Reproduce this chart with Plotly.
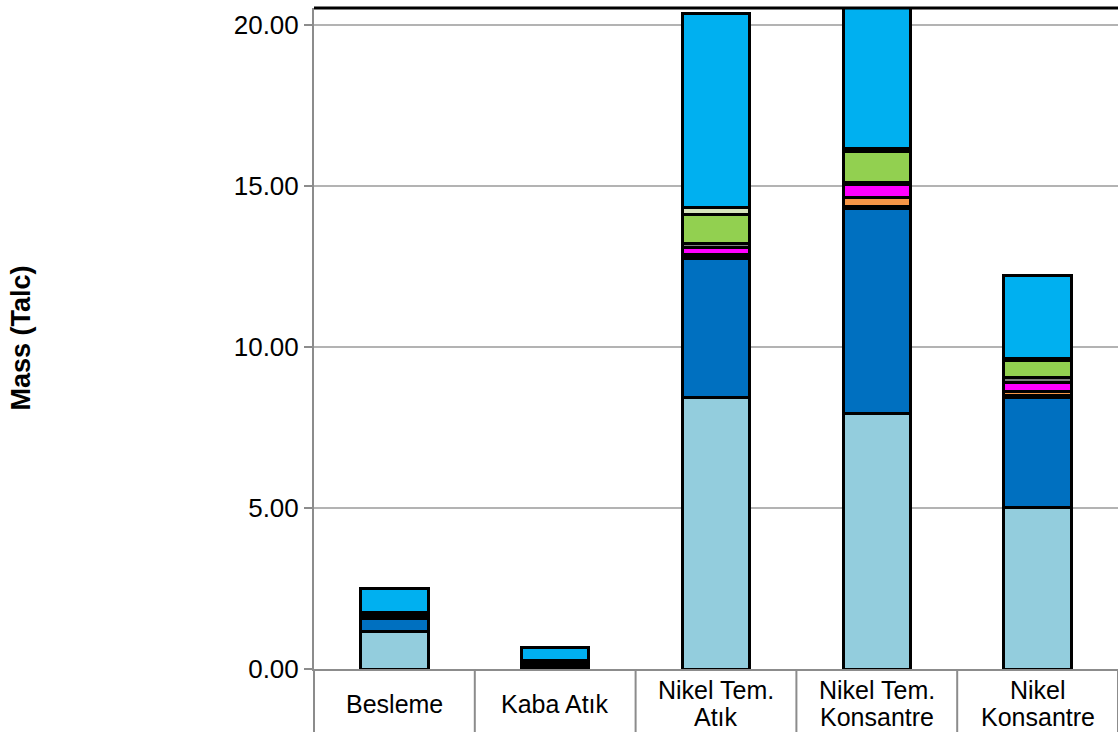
import plotly.graph_objects as go

# Sample categories (x axis)
categories = ["Besleme", "Kaba Atık", "Nikel Tem.<br>Atık", "Nikel Tem.<br>Konsantre", "Nikel<br>Konsantre"]

# Stacked components, bottom to top (mass, tonnes of talc-equivalent)
comp_1 = [1.18, 0.05, 8.42, 7.95, 5.02]
comp_2 = [0.40, 0.06, 4.33, 6.34, 3.41]
comp_3 = [0.03, 0.02, 0.04, 0.06, 0.08]
comp_4 = [0.02, 0.02, 0.08, 0.30, 0.10]
comp_5 = [0.03, 0.02, 0.22, 0.40, 0.30]
comp_6 = [0.03, 0.02, 0.14, 0.05, 0.14]
comp_7 = [0.05, 0.05, 0.90, 0.98, 0.52]
comp_8 = [0.03, 0.03, 0.20, 0.08, 0.06]
comp_9 = [0.73, 0.40, 6.04, 6.50, 2.59]

series = [comp_1, comp_2, comp_3, comp_4, comp_5, comp_6, comp_7, comp_8, comp_9]
colors = ["#93CDDD", "#0070C0", "#595959", "#F79646", "#FF00FF",
          "#7F7F7F", "#92D050", "#D7E4BD", "#00B0F0"]
names = [f"Bileşen {i + 1}" for i in range(len(series))]

y_ticks = [0, 5, 10, 15, 20]
y_tick_text = ["0.00", "5.00", "10.00", "15.00", "20.00"]

FONT = "Liberation Sans, Arial, sans-serif"
GRID = "#B3B3B3"
AXIS = "#8C8C8C"
PLOT_H = 732 - 8 - 63

fig = go.Figure()
for vals, col, nm in zip(series, colors, names):
    fig.add_trace(go.Bar(
        x=list(range(len(categories))), y=vals, name=nm,
        marker=dict(color=col, line=dict(color="black", width=3)),
        width=0.42,
    ))

# Category labels under the axis, one annotation per text line
for i, lab in enumerate(categories):
    lines = lab.split("<br>")
    if len(lines) == 1:
        centers = [35]
    else:
        centers = [21, 48]
    for txt, c in zip(lines, centers):
        fig.add_annotation(x=i, y=-c / PLOT_H, xref="x", yref="paper", text=txt,
                           showarrow=False, yanchor="middle", xanchor="center",
                           font=dict(family=FONT, size=25, color="black"))

# Vertical separators between category labels
n = len(categories)
for k in range(n + 1):
    fig.add_shape(type="line", xref="paper", yref="paper",
                  x0=k / n, x1=k / n, y0=0, y1=-63 / PLOT_H,
                  line=dict(color=AXIS, width=2))

# Black frame line along the top of the plot area
fig.add_shape(type="line", xref="paper", yref="paper", x0=0, x1=1, y0=1, y1=1,
              line=dict(color="black", width=3))

# Y axis title
fig.add_annotation(x=-(314 - 20) / 804, y=0.5, xref="paper", yref="paper",
                   text="<b>Mass (Talc)</b>",
                   textangle=-90, showarrow=False, xanchor="center", yanchor="middle",
                   font=dict(family=FONT, size=27, color="black"))

fig.update_layout(
    barmode="stack",
    width=1118, height=732,
    margin=dict(l=314, r=0, t=8, b=63),
    paper_bgcolor="white", plot_bgcolor="white",
    showlegend=False,
    font=dict(family=FONT, size=26, color="black"),
    xaxis=dict(range=[-0.5, n - 0.5], showticklabels=False, ticks="",
               showline=True, linecolor=AXIS, linewidth=2, showgrid=False,
               zeroline=False, fixedrange=True),
    yaxis=dict(range=[0, 20.53], tickvals=y_ticks, ticktext=y_tick_text,
               showgrid=True, gridcolor=GRID, gridwidth=2,
               showline=True, linecolor=AXIS, linewidth=2,
               ticks="outside", ticklen=8, tickcolor=AXIS, tickwidth=2,
               zeroline=False, tickfont=dict(family=FONT, size=26, color="black"),
               fixedrange=True),
)

fig.write_html("out.html")
